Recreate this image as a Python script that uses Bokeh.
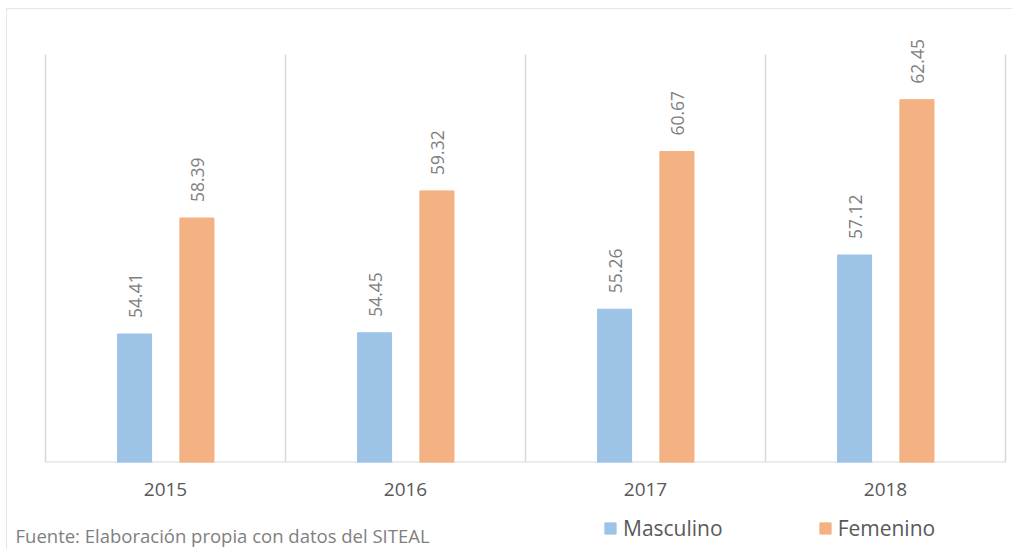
import math
from bokeh.plotting import figure
from bokeh.layouts import column
from bokeh.models import (Range1d, ColumnDataSource, Label, Legend, LegendItem,
                          FixedTicker, Span)
from bokeh.transform import dodge
from bokeh.core.properties import value
from bokeh.embed import file_html
from bokeh.resources import INLINE

years = ["2015", "2016", "2017", "2018"]
masculino = [54.41, 54.45, 55.26, 57.12]
femenino = [58.39, 59.32, 60.67, 62.45]
series_names = ["Masculino", "Femenino"]
source_note = "Fuente: Elaboración propia con datos del SITEAL"
y_min, y_max = 50, 64

BLUE = "#9DC3E6"
ORANGE = "#F4B183"
GRID = "#d9d9d9"
BORDER = "#e6e6e6"
FONT = "Open Sans"

# category centres on a numeric axis (one unit per year)
centres = [i + 0.5 for i in range(len(years))]
src = ColumnDataSource(dict(
    xc=centres,
    m=masculino,
    f=femenino,
    ml=[f"{v:.2f}" for v in masculino],
    fl=[f"{v:.2f}" for v in femenino],
))

# page geometry (pixels)
OX, OY = 6, 8            # outer chart border
X0 = OX + 1              # content start
RIGHT = 1012             # content right edge
PLOT_L, CAT_W = 45, 240  # first category boundary and category width
BASE, TOP = 462, 54      # baseline and y_max position
AX_BOTTOM = 515
px_per_unit = (BASE - TOP) / (y_max - y_min)

p = figure(
    width=RIGHT - X0, height=AX_BOTTOM - (OY + 1),
    x_range=Range1d((X0 - PLOT_L) / CAT_W, (RIGHT - PLOT_L) / CAT_W),
    y_range=Range1d(y_min, y_min + (BASE - (OY + 1)) / px_per_unit),
    output_backend="svg", toolbar_location=None,
    min_border_left=0, min_border_right=0, min_border_top=0,
    min_border_bottom=AX_BOTTOM - BASE,
)
p.outline_line_color = None
p.xgrid.visible = False
p.ygrid.visible = False
p.yaxis.visible = False

ax = p.xaxis[0]
ax.ticker = FixedTicker(ticks=centres)
ax.major_label_overrides = {c: y for c, y in zip(centres, years)}
ax.fixed_location = None
ax.axis_line_color = None
ax.major_tick_line_color = None
ax.minor_tick_line_color = None
ax.major_label_text_font = FONT
ax.major_label_text_font_size = "19px"
ax.major_label_text_color = "#595959"
ax.major_label_standoff = 14

# baseline and vertical separators between categories
bounds = list(range(len(years) + 1))
p.segment(x0=[bounds[0]], y0=[y_min], x1=[bounds[-1]], y1=[y_min], line_color=GRID, line_width=2)
p.segment(x0=bounds, y0=[y_min] * len(bounds), x1=bounds, y1=[y_max] * len(bounds),
          line_color=GRID, line_width=1.5)

r_m = p.vbar(x=dodge("xc", -0.129), top="m", bottom=y_min, width=0.142,
             source=src, fill_color=BLUE, line_color=BLUE)
r_f = p.vbar(x=dodge("xc", 0.131), top="f", bottom=y_min, width=0.142,
             source=src, fill_color=ORANGE, line_color=ORANGE)

for col, lab, off in (("m", "ml", -0.129), ("f", "fl", 0.131)):
    p.text(x=dodge("xc", off), y=col, text=lab, source=src,
           angle=math.pi / 2, text_align="left", text_baseline="middle",
           x_offset=1, y_offset=-16,
           text_font=value(FONT), text_font_size="17.5px", text_color="#7f7f7f")

# bottom strip: legend and source note (x range in page pixels)
p2 = figure(width=RIGHT - X0, height=34, x_range=Range1d(X0, RIGHT), y_range=Range1d(0, 34),
            output_backend="svg", toolbar_location=None,
            min_border_left=0, min_border_right=0, min_border_top=0, min_border_bottom=0)
p2.outline_line_color = None
p2.xaxis.visible = False
p2.yaxis.visible = False
p2.xgrid.visible = False
p2.ygrid.visible = False

# hidden swatch renderers (outside the visible range) used only for the legend
lm = p2.vbar(x=[-1000], top=[-1000], width=1, fill_color=BLUE, line_color=BLUE)
lf = p2.vbar(x=[-1000], top=[-1000], width=1, fill_color=ORANGE, line_color=ORANGE)
legend = Legend(items=[LegendItem(label=series_names[0], renderers=[lm]),
                       LegendItem(label=series_names[1], renderers=[lf])],
                orientation="horizontal", location=(603 - X0, 7),
                glyph_width=14, glyph_height=14, label_standoff=6, spacing=95,
                label_text_font=FONT, label_text_font_size="21px", label_text_color="#595959",
                border_line_color=None, background_fill_alpha=0, padding=0, margin=0)
p2.add_layout(legend, "center")

p2.add_layout(Label(x=15, y=14, x_units="data", y_units="data", text=source_note,
                    text_baseline="middle",
                    text_font=FONT, text_font_size="18.5px", text_color="#7f7f7f"))

layout = column(p, p2, spacing=0, margin=(OY, 0, 0, OX),
                styles={"border-left": f"1px solid {BORDER}", "border-top": f"1px solid {BORDER}"})
open("out.html", "w").write(file_html(layout, INLINE))
